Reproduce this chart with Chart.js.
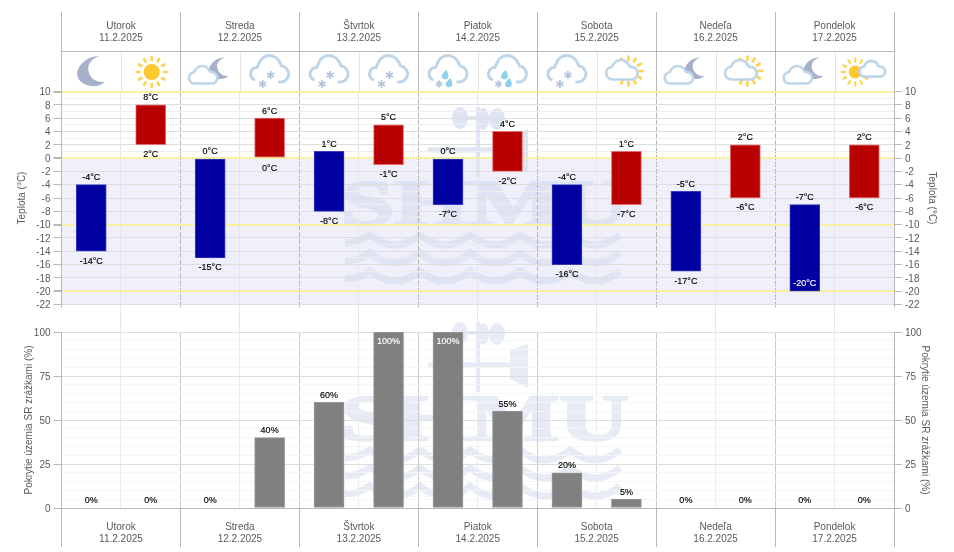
<!DOCTYPE html>
<html><head><meta charset="utf-8">
<script src="https://cdn.jsdelivr.net/npm/chart.js@4"></script>
<style>
html,body{margin:0;padding:0;background:#fff;overflow:hidden}
#wrap{position:relative;width:954px;height:552px}
canvas{position:absolute;left:0;top:0}
</style></head><body>
<div id="wrap"><canvas id="c1" width="954" height="552"></canvas><canvas id="c2" width="954" height="552"></canvas></div>
<script>
const dayNames = ['Utorok','Streda','Štvrtok','Piatok','Sobota','Nedeľa','Pondelok'];
const dayDates = ['11.2.2025','12.2.2025','13.2.2025','14.2.2025','15.2.2025','16.2.2025','17.2.2025'];
const halfDays = ['U-n','U-d','St-n','St-d','Š-n','Š-d','P-n','P-d','So-n','So-d','N-n','N-d','Po-n','Po-d'];
const tempLow  = [-14,2,-15,0,-8,-1,-7,-2,-16,-7,-17,-6,-20,-6];
const tempHigh = [-4,8,0,6,1,5,0,4,-4,1,-5,2,-7,2];
const coverage = [0,0,0,40,60,100,100,55,20,5,0,0,0,0];
const icons = ['moon','sun','cloudMoon','snow','snow','snow','rainSnow','rainSnow','snow','cloudSun','cloudMoon','cloudSun','cloudMoon','sunCloud'];
const tempTitle = 'Teplota (°C)';
const coverTitle = 'Pokrytie územia SR zrážkami (%)';

const FONT = '"Liberation Sans", Arial, sans-serif';
const TXT = '#5a5a5a', AXIS = '#b8b8b8';
const dayLabels = dayNames.map((d,i)=>[d,dayDates[i]]);

/* ---------- icons ---------- */
const moonPath = new Path2D('M8-15C-6-15-15-3-14 4C-13 12-3 16 5 15C8 14.5 11 13 13 11C4 12-3 6-3-3C-3-8 2-13 8-15Z');
function drawMoon(c,x,y,s){c.save();c.translate(x,y);c.scale(s,s);c.fillStyle='#a7b0cb';c.fill(moonPath);c.restore();}
function drawRays(c,x,y,r1,r2,w){c.save();c.strokeStyle='#fbd34d';c.lineWidth=w;
  for(let a=0;a<12;a++){const t=a*Math.PI/6;c.beginPath();c.moveTo(x+r1*Math.cos(t),y+r1*Math.sin(t));c.lineTo(x+r2*Math.cos(t),y+r2*Math.sin(t));c.stroke();}c.restore();}
function drawSun(c,x,y,r,r1,r2,w){drawRays(c,x,y,r1,r2,w);c.fillStyle='#fdc92f';c.beginPath();c.arc(x,y,r,0,7);c.fill();}
function drawWideCloud(c,x,y,s){c.save();c.translate(x,y);c.scale(s,s);const P=Math.PI;
  c.beginPath();c.arc(-9,3,6,.5*P,1.45*P);c.arc(-1,-1,8.5,1.1*P,1.9*P);c.arc(9,3,6,1.5*P,2.5*P);c.closePath();
  c.fillStyle='#fff';c.fill();c.strokeStyle='#bfd6e9';c.lineWidth=2.6/s;c.stroke();c.restore();}
function drawOpenCloud(c,x,y){c.save();c.translate(x,y);const P=Math.PI;
  c.beginPath();c.arc(-12.5,3,6.5,.6*P,1.5*P);c.arc(0,-4.5,11,1.12*P,1.85*P);c.arc(11,3,8,1.55*P,2.6*P);
  c.strokeStyle='#bfd6e9';c.lineWidth=3;c.stroke();c.restore();}
function drawFlake(c,x,y,r){c.save();c.strokeStyle='#b4c5dd';c.lineWidth=1.8;
  for(let a=0;a<3;a++){const t=a*Math.PI/3+Math.PI/2;c.beginPath();c.moveTo(x-r*Math.cos(t),y-r*Math.sin(t));c.lineTo(x+r*Math.cos(t),y+r*Math.sin(t));c.stroke();}c.restore();}
function drawDrop(c,x,y){c.save();c.fillStyle='#8fd0ee';c.beginPath();c.moveTo(x+1.5,y-5);c.quadraticCurveTo(x+3.6,y-1,x+3.2,y+1);c.arc(x,y+1,3.3,0,Math.PI);c.quadraticCurveTo(x-2.8,y-2,x+1.5,y-5);c.fill();c.restore();}
function drawIcon(c,name,x,y){
  if(name==='moon')drawMoon(c,x,y,1);
  if(name==='sun')drawSun(c,x+1,y+1,8,11,16,2.6);
  if(name==='cloudMoon'){drawMoon(c,x+9,y-3,.72);drawWideCloud(c,x-7,y+4,.95);}
  if(name==='cloudSun'){drawRays(c,x+2,y,10,15.5,2.6);drawWideCloud(c,x-4.5,y-1,1.05);}
  if(name==='sunCloud'){drawSun(c,x-9,y+1,6.5,9.5,14.5,2.2);drawWideCloud(c,x+8,y-2,.85);}
  if(name==='snow'){drawOpenCloud(c,x,y);drawFlake(c,x+1,y+4,4);drawFlake(c,x-7,y+13,4);}
  if(name==='rainSnow'){drawOpenCloud(c,x,y);drawDrop(c,x-3,y+4);drawDrop(c,x+1,y+12);drawFlake(c,x-9,y+13,3.6);}
}

/* ---------- watermark, drawn below the grid ---------- */
function drawWatermark(c,dy,col){
  c.save();c.translate(0,dy);c.fillStyle=col;c.strokeStyle=col;
  [[460,333,8,11],[483,334,6,11],[497,334,8,11]].forEach(e=>{c.beginPath();c.ellipse(e[0],e[1],e[2],e[3],0,0,7);c.fill();});
  c.lineWidth=4;c.beginPath();c.moveTo(478,322);c.lineTo(478,392);c.stroke();
  c.beginPath();c.moveTo(462,333);c.lineTo(497,333);c.stroke();
  c.lineWidth=5;c.lineCap='round';c.beginPath();c.moveTo(430,365);c.lineTo(512,365);c.stroke();c.lineCap='butt';
  c.beginPath();c.moveTo(510,350);c.lineTo(528,344);c.lineTo(528,388);c.lineTo(510,379);c.fill();
  c.save();c.translate(341,440);c.scale(1.475,1);c.font='bold 65px "Liberation Serif", serif';c.textBaseline='alphabetic';
  c.lineWidth=2.4;c.lineJoin='round';c.fillText('SHMU',0,0);c.strokeText('SHMU',0,0);c.restore();
  c.lineWidth=7;
  [450,468,486].forEach(y=>{c.beginPath();c.moveTo(345,y+8);let x=370;c.quadraticCurveTo(358,y+8,x,y);
    while(x<620){c.quadraticCurveTo(x+25,y+20,x+50,y);x+=50;}c.stroke();});
  c.restore();
}

/* ---------- plugins ---------- */
const topDecor = {id:'topDecor',
  beforeDraw(ch){const c=ch.ctx,a=ch.chartArea,y=ch.scales.y;
    c.save();c.fillStyle='#f0f0fd';const y0=y.getPixelForValue(0);c.fillRect(a.left,y0,a.width,a.bottom-y0);
    drawWatermark(c,-215,'#dfe4f4');c.restore();},
  afterDraw(ch){const c=ch.ctx,a=ch.chartArea,x=ch.scales.x;
    c.save();c.strokeStyle='#e4e4e4';c.lineWidth=1;
    for(let i=0;i<icons.length;i+=2){const p=Math.round((x.getPixelForValue(i)+x.getPixelForValue(i+1))/2)+.5;
      c.beginPath();c.moveTo(p,52);c.lineTo(p,91);c.stroke();}
    c.strokeStyle=AXIS;c.beginPath();c.moveTo(a.left,51.5);c.lineTo(a.right,51.5);c.stroke();
    icons.forEach((n,i)=>drawIcon(c,n,x.getPixelForValue(i),71));
    c.restore();}
};
const bottomDecor = {id:'bottomDecor',beforeDraw(ch){drawWatermark(ch.ctx,0,'#e6ebf6');}};
function labelText(c,t,x,y,col){c.fillStyle=col;c.strokeStyle=col;c.lineWidth=.15;c.fillText(t,x,y);c.strokeText(t,x,y);}
const tempLabels = {id:'tempLabels',afterDatasetsDraw(ch){const c=ch.ctx,a=ch.chartArea,ys=ch.scales.y;
  c.save();c.font='9px '+FONT;c.textAlign='center';c.textBaseline='middle';
  ch.getDatasetMeta(0).data.forEach((b,i)=>{
    const top=ys.getPixelForValue(tempHigh[i]),bot=ys.getPixelForValue(tempLow[i]);
    labelText(c,tempHigh[i]+'°C',b.x,top-7,'#000');
    if(bot+14>a.bottom)labelText(c,tempLow[i]+'°C',b.x,bot-8,'#fff');
    else labelText(c,tempLow[i]+'°C',b.x,bot+10,'#000');
  });c.restore();}};
const coverLabels = {id:'coverLabels',afterDatasetsDraw(ch){const c=ch.ctx,a=ch.chartArea;
  c.save();c.font='9px '+FONT;c.textAlign='center';c.textBaseline='middle';
  ch.getDatasetMeta(0).data.forEach((b,i)=>{
    if(b.y-14<a.top)labelText(c,coverage[i]+'%',b.x,b.y+10,'#fff');
    else labelText(c,coverage[i]+'%',b.x,b.y-7,'#000');
  });c.restore();}};

/* ---------- shared scale helpers ---------- */
const tickFont={family:FONT,size:10};
const yTickFont={family:FONT,size:10,lineHeight:.2};
const headFont={family:FONT,size:10,lineHeight:1.2};
function yScale(pos,min,max,step,major,titleText,titlePad,extra){
  return Object.assign({type:'linear',position:pos,min,max,
    border:{display:true,color:AXIS},
    ticks:{stepSize:step,autoSkip:false,font:yTickFont,color:TXT,padding:3,
      callback:v=>v%major===0?['',String(v)]:''},
    title:{display:true,text:titleText,color:TXT,font:tickFont,padding:{top:titlePad,bottom:0}},
    afterFit:s=>{s.width=pos==='left'?61.5:60;}},extra);
}

new Chart(document.getElementById('c1'),{
  type:'bar',
  data:{labels:halfDays,datasets:[{
    data:tempLow.map((l,i)=>[l,tempHigh[i]]),
    backgroundColor:tempLow.map((l,i)=>i%2?'#b80000':'#0000a0'),
    borderColor:tempLow.map((l,i)=>i%2?'#e86a6a':'#3a3ac4'),
    borderWidth:1,borderSkipped:false,barThickness:30}]},
  plugins:[topDecor,tempLabels],
  options:{responsive:false,animation:false,devicePixelRatio:1,
    layout:{padding:{top:12,bottom:247.5,left:0,right:0}},
    plugins:{legend:{display:false},tooltip:{enabled:false}},
    scales:{
      x:{position:'bottom',offset:true,
        grid:{offset:true,color:'#e6e6e6',lineWidth:1,tickLength:27.5,
          tickColor:c=>c.index%2?'#e6e6e6':'rgba(0,0,0,0)'},
        border:{display:false},ticks:{display:false},afterFit:s=>{s.height=0;}},
      x3:{type:'category',labels:dayLabels,position:'bottom',offset:true,
        grid:{offset:true,drawOnChartArea:false,color:AXIS,tickLength:3},
        border:{display:false},ticks:{display:false},afterFit:s=>{s.height=0;}},
      x2:{type:'category',labels:dayLabels,position:'top',offset:true,
        grid:{offset:true,color:'#b4b4b4',lineWidth:1,tickLength:79.5,tickColor:AXIS,tickBorderDash:[]},
        border:{display:false,dash:[5,2]},
        ticks:{font:headFont,color:TXT,maxRotation:0,autoSkip:false,padding:-32.5},
        afterFit:s=>{s.height=79.5;}},
      y:yScale('left',-22,10,1,2,tempTitle,16,{
        grid:{color:c=>{const v=c.tick.value;return (v===10||v===0||v===-10||v===-20)?'#f6f2a2':(v%2===0?'#dedede':'#eeeeee');},
          lineWidth:c=>{const v=c.tick.value;return (v===10||v===0||v===-10||v===-20)?2:1;},
          tickLength:8,tickColor:c=>c.tick.value%2===0?AXIS:'rgba(0,0,0,0)'}}),
      yR:yScale('right',-22,10,1,2,tempTitle,16,{
        grid:{drawOnChartArea:false,tickLength:8,tickColor:c=>c.tick.value%2===0?AXIS:'rgba(0,0,0,0)'}})
    }
  }
});

new Chart(document.getElementById('c2'),{
  type:'bar',
  data:{labels:halfDays,datasets:[{
    data:coverage,backgroundColor:'#808080',borderColor:'#989898',borderWidth:1,borderSkipped:false,barThickness:30}]},
  plugins:[bottomDecor,coverLabels],
  options:{responsive:false,animation:false,devicePixelRatio:1,
    layout:{padding:{top:332,bottom:0,left:0,right:0}},
    plugins:{legend:{display:false},tooltip:{enabled:false}},
    scales:{
      x:{position:'bottom',offset:true,
        grid:{offset:true,color:'#ececec',lineWidth:1,drawTicks:false},
        border:{display:false},ticks:{display:false},afterFit:s=>{s.height=0;}},
      x2:{type:'category',labels:dayLabels,position:'bottom',offset:true,
        grid:{offset:true,color:'#cccccc',lineWidth:1,tickLength:39,tickColor:AXIS},
        border:{display:true,color:AXIS},
        ticks:{font:headFont,color:TXT,maxRotation:0,autoSkip:false,padding:-26},
        afterFit:s=>{s.height=44;}},
      y:yScale('left',0,100,5,25,coverTitle,23,{
        grid:{color:c=>c.tick.value%25===0?'#dedede':'#f5f5f5',tickLength:8,
          tickColor:c=>c.tick.value%25===0?AXIS:'rgba(0,0,0,0)'}}),
      yR:yScale('right',0,100,5,25,coverTitle,23,{
        grid:{drawOnChartArea:false,tickLength:8,tickColor:c=>c.tick.value%25===0?AXIS:'rgba(0,0,0,0)'}})
    }
  }
});
</script>
</body></html>
